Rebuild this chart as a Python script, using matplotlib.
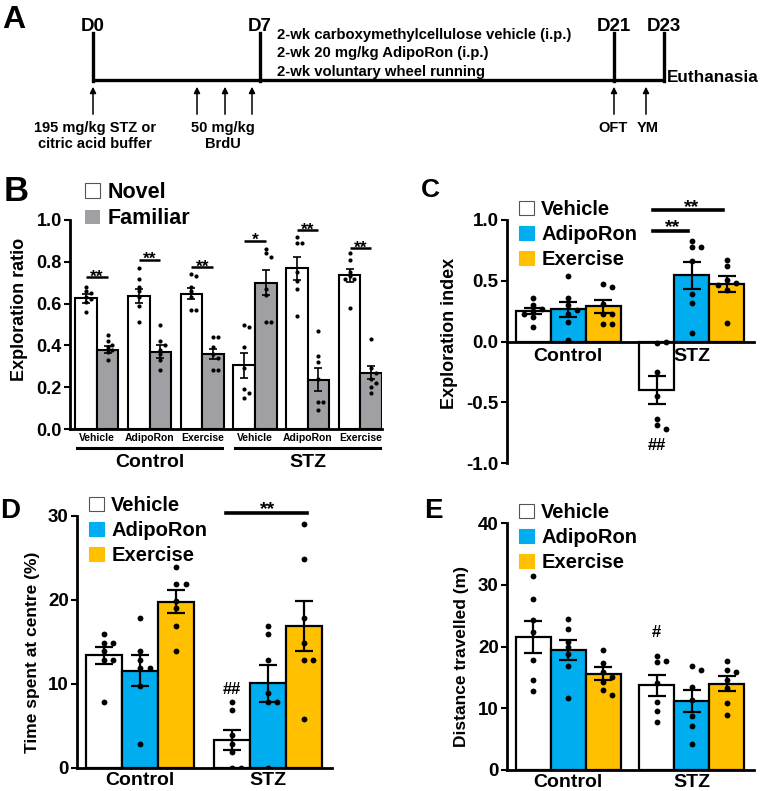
import matplotlib
matplotlib.use('Agg')
import matplotlib.pyplot as plt
import matplotlib.transforms as mtransforms
from matplotlib.patches import Patch
import numpy as np

plt.rcParams['font.family'] = ['Liberation Sans', 'DejaVu Sans']
plt.rcParams['font.weight'] = 'bold'
plt.rcParams['axes.labelweight'] = 'bold'
NARROW = ['Liberation Sans Narrow', 'Liberation Sans', 'DejaVu Sans']

W, H = 762, 791

# ---------------- data ----------------
groups = ['Control', 'STZ']
treatments = ['Vehicle', 'AdipoRon', 'Exercise']
colors = ['white', '#00AEEF', '#FFC000']
gray = '#A0A0A4'

# B - exploration ratio (Control x3, STZ x3)
b_novel_mean = [0.625, 0.635, 0.648, 0.305, 0.77, 0.735]
b_novel_sem = [0.02, 0.033, 0.025, 0.06, 0.055, 0.03]
b_fam_mean = [0.38, 0.37, 0.36, 0.70, 0.235, 0.27]
b_fam_sem = [0.015, 0.03, 0.024, 0.06, 0.055, 0.03]
b_novel_pts = [[0.68, 0.66, 0.65, 0.63, 0.62, 0.61, 0.56],
               [0.77, 0.72, 0.68, 0.66, 0.63, 0.59, 0.51],
               [0.74, 0.73, 0.68, 0.66, 0.63, 0.57, 0.57],
               [0.50, 0.49, 0.39, 0.29, 0.19, 0.17, 0.15],
               [0.92, 0.89, 0.89, 0.75, 0.71, 0.67, 0.54],
               [0.84, 0.81, 0.75, 0.73, 0.72, 0.72, 0.58]]
b_fam_pts = [[0.45, 0.42, 0.40, 0.39, 0.38, 0.37, 0.33],
             [0.50, 0.42, 0.40, 0.38, 0.36, 0.33, 0.28],
             [0.44, 0.44, 0.39, 0.36, 0.34, 0.28, 0.28],
             [0.86, 0.84, 0.825, 0.67, 0.64, 0.51, 0.51],
             [0.47, 0.35, 0.32, 0.24, 0.13, 0.13, 0.09],
             [0.43, 0.29, 0.27, 0.24, 0.22, 0.20, 0.17]]
b_sig = ['**', '**', '**', '*', '**', '**']
b_sig_y = [0.726, 0.81, 0.774, 0.90, 0.95, 0.865]

# C - exploration index
c_mean = [[0.25, 0.265, 0.29], [-0.40, 0.545, 0.47]]
c_sem = [[0.026, 0.06, 0.053], [0.115, 0.11, 0.065]]
c_pts = [[[0.36, 0.30, 0.27, 0.25, 0.23, 0.205, 0.12],
          [0.54, 0.36, 0.30, 0.26, 0.23, 0.16, 0.01],
          [0.47, 0.45, 0.31, 0.23, 0.23, 0.14, 0.14]],
         [[-0.01, 0.0, -0.255, -0.45, -0.64, -0.69, -0.72],
          [0.83, 0.775, 0.775, 0.66, 0.39, 0.32, 0.07],
          [0.67, 0.62, 0.51, 0.485, 0.465, 0.42, 0.155]]]

# D - time spent at centre (%)
d_mean = [[13.4, 11.6, 19.8], [3.3, 10.1, 16.9]]
d_sem = [[1.0, 1.8, 1.35], [1.2, 2.2, 3.0]]
d_pts = [[[15.9, 14.9, 14.9, 13.9, 12.9, 12.9, 7.9],
          [17.9, 13.9, 12.9, 11.9, 11.9, 9.8, 2.8],
          [23.9, 21.9, 21.9, 19.9, 19.0, 16.9, 13.9]],
         [[7.9, 6.9, 3.9, 2.9, 1.9, 0.0, 0.0],
          [16.9, 15.9, 12.8, 8.9, 7.9, 7.9, 0.0],
          [29.0, 24.9, 17.9, 14.9, 12.8, 12.8, 5.8]]]

# E - distance travelled (m)
e_mean = [[21.6, 19.4, 15.6], [13.7, 11.2, 14.0]]
e_sem = [[2.6, 1.6, 1.0], [1.7, 1.8, 1.2]]
e_pts = [[[31.4, 27.7, 24.3, 22.3, 17.8, 14.5, 12.8],
          [24.4, 22.9, 20.8, 19.9, 18.8, 16.9, 11.7],
          [19.5, 17.4, 15.9, 15.1, 14.3, 12.9, 12.1]],
         [[18.5, 17.6, 17.5, 14.1, 11.0, 9.6, 7.8],
          [16.9, 16.2, 13.4, 11.4, 8.8, 7.1, 4.2],
          [17.7, 16.2, 15.9, 14.6, 13.2, 10.8, 8.9]]]


def px_rect(l, t, r, b):
    return [l / W, 1 - b / H, (r - l) / W, (b - t) / H]


def swarm(vals, dy, dx):
    placed, offs = [], []
    for v in vals:
        for k in [0, 1, -1, 2, -2]:
            o = k * dx
            if all(abs(v - pv) > dy or abs(o - po) > 0.5 * dx for pv, po in placed):
                break
        placed.append((v, o))
        offs.append(o)
    return np.array(offs)


def style_axis(ax, lw=2.0):
    for s in ['top', 'right']:
        ax.spines[s].set_visible(False)
    for s in ['left', 'bottom']:
        ax.spines[s].set_linewidth(lw)
    ax.tick_params(axis='y', direction='out', length=4, width=1.5, labelsize=13.5, pad=2)
    ax.tick_params(axis='x', length=0, labelsize=14, pad=3)


def panel_label(s, x, y, size):
    fig.text(x / W, 1 - y / H, s, fontsize=size, fontweight='bold', ha='left', va='baseline')


def legend3(ax, x, y, size=14.5):
    handles = [Patch(facecolor=c, edgecolor='#555555' if c == 'white' else c, lw=0.8) for c in colors]
    ax.legend(handles, treatments, loc='upper left', bbox_to_anchor=(x / W, 1 - y / H),
              bbox_transform=fig.transFigure, frameon=False, borderpad=0, borderaxespad=0,
              handlelength=0.75, handleheight=0.7, handletextpad=0.35, labelspacing=0.3,
              prop={'size': size, 'weight': 'bold'})


fig = plt.figure(figsize=(W / 100, H / 100), dpi=100)

# ---------------- A: timeline ----------------
events = ['D0', 'D7', 'D21', 'D23']
event_x = [93, 260, 614, 664]
brdu_x = [197, 225, 252]
axA = fig.add_axes([0, 0, 1, 1], zorder=-1)
axA.set_xlim(0, W)
axA.set_ylim(H, 0)
axA.axis('off')
axA.plot([event_x[0], event_x[-1]], [80, 80], color='k', lw=2.4, solid_capstyle='butt')
for name, x in zip(events, event_x):
    axA.plot([x, x], [33, 81], color='k', lw=2.4)
    axA.text(x, 31, name, ha='center', va='baseline', fontsize=13.5, family=NARROW)
for x in [event_x[0]] + brdu_x + [614, 646]:
    axA.annotate('', xy=(x, 84), xytext=(x, 117),
                 arrowprops=dict(arrowstyle='-|>', color='k', lw=1.1, mutation_scale=9))
axA.text(95, 136, '195 mg/kg STZ or\ncitric acid buffer', ha='center', va='center',
         fontsize=10.5, family=NARROW, linespacing=1.25)
axA.text(223, 136, '50 mg/kg\nBrdU', ha='center', va='center', fontsize=10.5,
         family=NARROW, linespacing=1.25)
axA.text(613, 128, 'OFT', ha='center', va='center', fontsize=10.5, family=NARROW)
axA.text(648, 128, 'YM', ha='center', va='center', fontsize=10.5, family=NARROW)
for i, s in enumerate(['2-wk carboxymethylcellulose vehicle (i.p.)',
                       '2-wk 20 mg/kg AdipoRon (i.p.)',
                       '2-wk voluntary wheel running']):
    axA.text(277, 35 + 18.5 * i, s, ha='left', va='center', fontsize=10.7, family=NARROW)
axA.text(667, 78, 'Euthanasia', ha='left', va='center', fontsize=12.3, family=NARROW)
panel_label('A', 2, 28, 23)

# ---------------- B ----------------
axB = fig.add_axes(px_rect(70, 220, 382, 429))
bw = 0.41
xg = np.arange(6)
axB.bar(xg - bw / 2, b_novel_mean, bw, color='white', edgecolor='k', lw=1.5, zorder=2)
axB.bar(xg + bw / 2, b_fam_mean, bw, color=gray, edgecolor='k', lw=1.5, zorder=2)
axB.errorbar(xg - bw / 2, b_novel_mean, yerr=b_novel_sem, fmt='none', ecolor='k',
             elinewidth=1.2, capsize=2.8, capthick=1.2, zorder=4)
axB.errorbar(xg + bw / 2, b_fam_mean, yerr=b_fam_sem, fmt='none', ecolor='k',
             elinewidth=1.2, capsize=2.8, capthick=1.2, zorder=4)
for i in range(6):
    for pts, xc in [(b_novel_pts[i], i - bw / 2), (b_fam_pts[i], i + bw / 2)]:
        axB.plot(xc + swarm(pts, 0.02, 0.09), pts, 'o', color='k', ms=3, mew=0, zorder=3)
    axB.plot([i - bw / 2, i + bw / 2], [b_sig_y[i]] * 2, color='k', lw=1.8, solid_capstyle='butt')
    axB.annotate(b_sig[i], xy=(i, b_sig_y[i]), xytext=(0, -3), textcoords='offset points',
                 ha='center', va='baseline', fontsize=12.5)
axB.set_xlim(-0.51, 5.41)
axB.set_ylim(0, 1.0)
axB.set_yticks(np.arange(0, 1.01, 0.2))
axB.set_yticklabels([f'{v:.1f}' for v in np.arange(0, 1.01, 0.2)])
axB.set_xticks(xg)
axB.set_xticklabels(treatments * 2)
style_axis(axB)
axB.tick_params(axis='x', labelsize=7.5, pad=3)
axB.tick_params(axis='y', labelsize=13)
axB.set_ylabel('Exploration ratio', fontsize=13)
axB.yaxis.set_label_coords(-0.135, 0.57)
trB = mtransforms.blended_transform_factory(axB.transData, axB.transAxes)
for g, name in enumerate(groups):
    x0, x1 = 3 * g - 0.38, 3 * g + 2 + 0.38
    axB.plot([x0, x1], [-0.091, -0.091], color='k', lw=2.2, transform=trB, clip_on=False)
    axB.text((x0 + x1) / 2, -0.16, name, ha='center', va='center', fontsize=14, transform=trB)
axB.legend([Patch(facecolor='white', edgecolor='#555555', lw=0.8), Patch(facecolor=gray)],
           ['Novel', 'Familiar'], loc='upper left', bbox_to_anchor=(85 / W, 1 - 182 / H),
           bbox_transform=fig.transFigure, frameon=False, borderpad=0, borderaxespad=0,
           handlelength=0.7, handleheight=0.65, handletextpad=0.35, labelspacing=0.25,
           prop={'size': 15.5, 'weight': 'bold'})
panel_label('B', 4, 201, 25)

# ---------------- C, D, E ----------------
pitch = 3.53
xlim3 = (-1.75, 5.31)


def grouped(ax, mean, sem, pts, dy):
    for g in range(2):
        for t in range(3):
            x = g * pitch + (t - 1)
            ax.bar(x, mean[g][t], 1.0, color=colors[t], edgecolor='k', lw=1.6, zorder=2)
            ax.errorbar(x, mean[g][t], yerr=sem[g][t], fmt='none', ecolor='k',
                        elinewidth=1.6, capsize=6.5, capthick=1.6, zorder=4)
            p = pts[g][t]
            ax.plot(x + swarm(p, dy, 0.26), p, 'o', color='k', ms=4.2, mew=0, zorder=3)
    ax.set_xlim(*xlim3)
    ax.set_xticks([0, pitch])
    ax.set_xticklabels(groups)
    style_axis(ax)


# C
axC = fig.add_axes(px_rect(507, 220, 754, 463))
grouped(axC, c_mean, c_sem, c_pts, 0.045)
axC.set_ylim(-1, 1)
axC.set_yticks([-1, -0.5, 0, 0.5, 1])
axC.set_yticklabels(['-1.0', '-0.5', '0.0', '0.5', '1.0'])
axC.spines['bottom'].set_position(('data', 0))
axC.tick_params(axis='x', pad=5)
axC.set_ylabel('Exploration index', fontsize=13)
axC.yaxis.set_label_coords(-0.198, 0.535)
stz_v, stz_a, stz_e = pitch - 1, pitch, pitch + 1
axC.plot([stz_v - 0.1, stz_e - 0.1], [1.08, 1.08], color='k', lw=2.6, clip_on=False)
axC.annotate('**', xy=((stz_v + stz_e) / 2, 1.08), xytext=(0, -1), textcoords='offset points',
             ha='center', va='baseline', fontsize=14, annotation_clip=False)
axC.plot([stz_v - 0.1, stz_a - 0.1], [0.91, 0.91], color='k', lw=2.6, clip_on=False)
axC.annotate('**', xy=((stz_v + stz_a) / 2 - 0.05, 0.91), xytext=(0, -1), textcoords='offset points',
             ha='center', va='baseline', fontsize=14)
axC.text(stz_v, -0.86, '##', ha='center', va='center', fontsize=12)
legend3(axC, 519, 200)
panel_label('C', 421, 197, 19)

# D
axD = fig.add_axes(px_rect(77, 516, 332, 768))
grouped(axD, d_mean, d_sem, d_pts, 0.65)
axD.set_ylim(0, 30)
axD.set_yticks([0, 10, 20, 30])
axD.set_ylabel('Time spent at centre (%)', fontsize=12.5)
axD.yaxis.set_label_coords(-0.145, 0.46)
axD.plot([stz_v - 0.15, stz_e + 0.1], [30.4, 30.4], color='k', lw=2.6, clip_on=False)
axD.annotate('**', xy=((stz_v + stz_e) / 2, 30.4), xytext=(0, -1), textcoords='offset points',
             ha='center', va='baseline', fontsize=14, annotation_clip=False)
axD.text(stz_v, 9.4, '##', ha='center', va='center', fontsize=12)
legend3(axD, 89, 496)
panel_label('D', 0, 518, 20)

# E
axE = fig.add_axes(px_rect(507, 523, 754, 770))
grouped(axE, e_mean, e_sem, e_pts, 0.9)
axE.set_ylim(0, 40)
axE.set_yticks([0, 10, 20, 30, 40])
axE.set_ylabel('Distance travelled (m)', fontsize=12.5)
axE.yaxis.set_label_coords(-0.154, 0.46)
axE.text(stz_v, 22.2, '#', ha='center', va='center', fontsize=12)
legend3(axE, 519, 503)
panel_label('E', 424, 518, 20)

fig.savefig('out.png', dpi=100)
